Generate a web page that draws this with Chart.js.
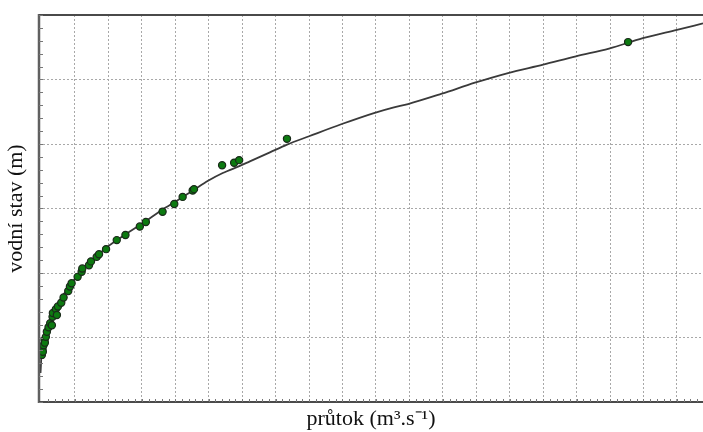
<!DOCTYPE html>
<html>
<head>
<meta charset="utf-8">
<script src="https://cdn.jsdelivr.net/npm/chart.js@4/dist/chart.umd.min.js"></script>
<style>
html,body{margin:0;padding:0;background:#fff;}
canvas{display:block;}
</style>
</head>
<body>
<canvas id="c" width="703" height="432"></canvas>
<script>
// Measured discharge (průtok) and stage (vodní stav) – arbitrary grid units
const measQ = [0.01,0.03,0.04,0.06,0.09,0.10,0.13,0.16,0.21,0.26,0.31,0.33,0.34,0.43,0.46,0.49,0.59,0.66,0.80,0.85,0.90,1.08,1.20,1.22,1.42,1.48,1.65,1.72,1.93,2.25,2.51,2.94,3.12,3.62,3.97,4.22,4.52,4.56,5.40,5.76,5.91,7.34,17.54];
const measH = [0.73,0.82,0.78,0.88,0.96,0.92,1.01,1.09,1.16,1.22,1.19,1.32,1.38,1.44,1.35,1.48,1.54,1.62,1.72,1.79,1.84,1.94,2.02,2.07,2.12,2.18,2.25,2.29,2.37,2.51,2.59,2.72,2.79,2.95,3.07,3.18,3.28,3.30,3.67,3.71,3.75,4.08,5.58];
// Rating curve
const curveQ = [-0.03,0.01,0.10,0.25,0.55,0.85,1.15,1.45,1.96,2.34,3.09,3.63,3.93,4.56,4.98,5.42,5.93,6.23,6.83,7.34,8.00,8.98,9.94,10.51,10.96,11.97,12.96,13.95,15.00,15.98,16.97,17.98,19.00,19.78];
const curveH = [0.45,0.81,1.04,1.27,1.58,1.80,2.02,2.17,2.40,2.54,2.795,2.99,3.08,3.29,3.43,3.55,3.66,3.73,3.87,3.99,4.12,4.31,4.48,4.565,4.62,4.78,4.95,5.10,5.23,5.36,5.48,5.64,5.77,5.87];
const xGridTicks = [1,2,3,4,5,6,7,8,9,10,11,12,13,14,15,16,17,18,19];
const yGridTicks = [0,1,2,3,4,5,6];
const xTitle = 'průtok (m³.s⁻¹)';
const yTitle = 'vodní stav (m)';

const frame = {
  id: 'frame',
  afterDraw(chart) {
    const {ctx, chartArea: a, scales} = chart;
    const ys = scales.y, xs = scales.x;
    ctx.save();
    // axis lines
    ctx.strokeStyle = '#606060';
    ctx.lineWidth = 2.5;
    ctx.beginPath(); ctx.moveTo(a.left, a.top - 1); ctx.lineTo(a.left, a.bottom + 1); ctx.stroke();
    ctx.strokeStyle = '#4a4a4a';
    ctx.lineWidth = 2;
    ctx.beginPath(); ctx.moveTo(a.left, a.bottom); ctx.lineTo(a.right, a.bottom); ctx.stroke();
    ctx.beginPath(); ctx.moveTo(a.left, a.top); ctx.lineTo(a.right, a.top); ctx.stroke();
    // minor ticks on left axis
    ctx.strokeStyle = '#777';
    ctx.lineWidth = 1;
    for (let v = 0; v <= 6.0001; v += 0.2) {
      const py = Math.round(ys.getPixelForValue(v)) + 0.5;
      ctx.beginPath(); ctx.moveTo(a.left, py); ctx.lineTo(a.left + 4, py); ctx.stroke();
    }
    // minor ticks on bottom axis
    for (let q = 0.2; q <= 19.8; q += 0.2) {
      const px = Math.round(xs.getPixelForValue(q)) + 0.5;
      ctx.beginPath(); ctx.moveTo(px, a.bottom); ctx.lineTo(px, a.bottom - 3); ctx.stroke();
    }
    ctx.restore();
  }
};

new Chart(document.getElementById('c'), {
  type: 'scatter',
  data: {
    datasets: [
      {
        type: 'scatter',
        data: measQ.map((q, i) => ({x: q, y: measH[i]})),
        pointRadius: 3.6,
        pointBackgroundColor: '#0c7a10',
        pointBorderColor: '#1a2a1a',
        pointBorderWidth: 1.2,
        order: 1
      },
      {
        type: 'line',
        data: curveQ.map((q, i) => ({x: q, y: curveH[i]})),
        borderColor: '#3a3a3a',
        borderWidth: 1.8,
        pointRadius: 0,
        fill: false,
        cubicInterpolationMode: 'monotone',
        order: 2
      }
    ]
  },
  options: {
    responsive: false,
    devicePixelRatio: 1,
    animation: false,
    events: [],
    layout: {autoPadding: false, padding: {top: 15, right: 0, bottom: 0, left: 0}},
    plugins: {legend: {display: false}, tooltip: {enabled: false}},
    scales: {
      x: {
        type: 'linear',
        min: -0.075,
        max: 19.78,
        afterBuildTicks: s => { s.ticks = xGridTicks.map(v => ({value: v})); },
        afterFit: s => { s.height = 30; },
        ticks: {display: false},
        grid: {color: '#a8a8a8', lineWidth: 1, drawTicks: false},
        border: {display: false, dash: [2, 2]},
        title: {display: true, text: xTitle, color: '#111', font: {family: 'Liberation Serif', size: 22}, padding: {top: 0, bottom: 0}}
      },
      y: {
        type: 'linear',
        min: 0,
        max: 6,
        afterBuildTicks: s => { s.ticks = yGridTicks.map(v => ({value: v})); },
        afterFit: s => { s.width = 39; },
        ticks: {display: false},
        grid: {color: '#a8a8a8', lineWidth: 1, drawTicks: false},
        border: {display: false, dash: [2, 2]},
        title: {display: true, text: yTitle, color: '#111', font: {family: 'Liberation Serif', size: 22}, padding: {top: 3, bottom: 0}}
      }
    }
  },
  plugins: [frame]
});
</script>
</body>
</html>
